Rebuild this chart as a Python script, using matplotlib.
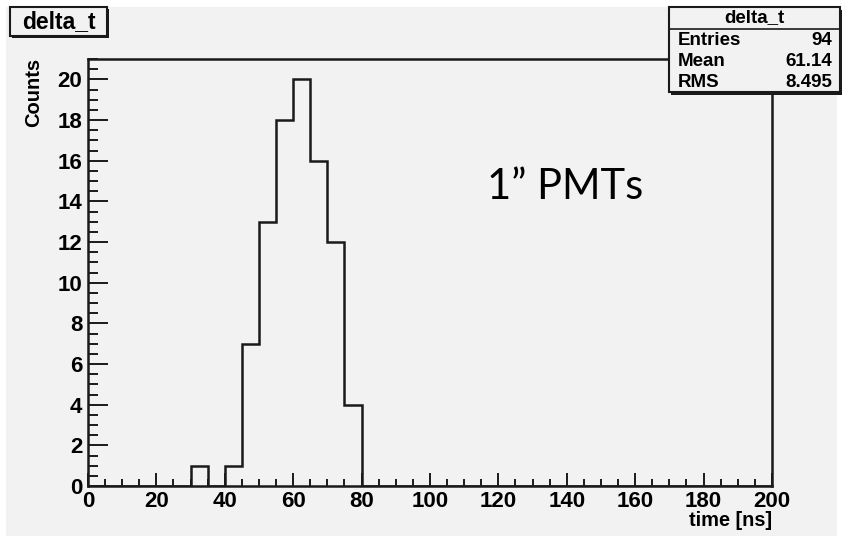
import matplotlib
matplotlib.use("Agg")
import matplotlib.pyplot as plt
from matplotlib.patches import Rectangle
from matplotlib.ticker import MultipleLocator
import numpy as np

# Histogram content: 5 ns bins from 0 to 200 ns
bin_edges = np.arange(0, 205, 5)
bin_counts = [0, 0, 0, 0, 0, 0, 1, 0, 1, 7, 13, 18, 20, 16, 12, 4] + [0] * 24

hist_name = "delta_t"
stat_labels = ["Entries", "Mean", "RMS"]
stat_values = ["94", "61.14", "8.495"]
x_label = "time [ns]"
y_label = "Counts"
annotation = "1\u201d PMTs"

W, H = 845, 536
fig = plt.figure(figsize=(W / 100, H / 100), dpi=100, facecolor="white")

def fx(px):
    return px / W

def fy(py):
    return 1 - py / H

BG = "#f2f2f2"
INK = "#1a1a1a"
bold = dict(family="Liberation Sans", weight="bold")

# canvas background
fig.patches.append(Rectangle((fx(6), fy(536)), fx(837) - fx(6), fy(7) - fy(536),
                             transform=fig.transFigure, facecolor=BG, edgecolor="none", zorder=-10))

# plot frame
left, right, top, bottom = 88, 772, 59, 486
ax = fig.add_axes([fx(left), fy(bottom), fx(right) - fx(left), fy(top) - fy(bottom)])
ax.set_zorder(1)
ax.set_facecolor(BG)
ax.stairs(bin_counts, bin_edges, color=INK, linewidth=1.8, baseline=0)
ax.set_xlim(0, 200)
ax.set_ylim(0, 21)
for s in ax.spines.values():
    s.set_linewidth(1.8)
    s.set_color(INK)

ax.xaxis.set_major_locator(MultipleLocator(20))
ax.xaxis.set_minor_locator(MultipleLocator(5))
ax.yaxis.set_major_locator(MultipleLocator(2))
ax.yaxis.set_minor_locator(MultipleLocator(0.5))
ax.tick_params(axis="x", which="major", direction="in", length=9.5, width=1.4, color=INK, pad=3.5)
ax.tick_params(axis="x", which="minor", direction="in", length=5, width=1.4, color=INK)
ax.tick_params(axis="y", which="major", direction="in", length=14.5, width=1.4, color=INK, pad=4)
ax.tick_params(axis="y", which="minor", direction="in", length=7.5, width=1.4, color=INK)
ax.tick_params(top=False, right=False, which="both")

ax.set_xticks(np.arange(0, 201, 20))
ax.set_xticklabels([str(v) for v in range(0, 201, 20)], fontsize=16, **bold)
yt = np.arange(0, 21, 2)
ax.set_yticks(yt)
ax.set_yticklabels([str(v) for v in yt], fontsize=16, **bold)

ax.text(0.584, 0.70, annotation, transform=ax.transAxes, ha="left", va="center",
        fontsize=30, family="Lato", color="black")

fig.text(fx(34), fy(58), y_label, rotation=90, ha="center", va="top", fontsize=14.5, **bold)
fig.text(fx(772), fy(520), x_label, ha="right", va="center", fontsize=14.4, **bold)

# boxes with a drop shadow
def shadow_box(x0, y0, x1, y1, lw=1.5, sh=2.5):
    fig.patches.append(Rectangle((fx(x0 + sh), fy(y1 + sh)), fx(x1) - fx(x0), fy(y0) - fy(y1),
                                 transform=fig.transFigure, facecolor=INK, edgecolor="none", zorder=5))
    fig.patches.append(Rectangle((fx(x0), fy(y1)), fx(x1) - fx(x0), fy(y0) - fy(y1),
                                 transform=fig.transFigure, facecolor=BG, edgecolor=INK,
                                 linewidth=lw, zorder=6))

# title box
shadow_box(10, 7, 107, 36)
fig.text(fx(58.5), fy(22), hist_name, ha="center", va="center", fontsize=16.5, zorder=7, **bold)

# statistics box
shadow_box(669, 7, 840, 92)
fig.add_artist(plt.Line2D([fx(669), fx(840)], [fy(29), fy(29)], transform=fig.transFigure,
                          color=INK, linewidth=1.2, zorder=7))
fig.text(fx(754.5), fy(17.5), hist_name, ha="center", va="center", fontsize=13.5, zorder=7, **bold)
for i, (lab, val) in enumerate(zip(stat_labels, stat_values)):
    yy = 40.5 + i * 21
    fig.text(fx(678), fy(yy), lab, ha="left", va="center", fontsize=13.5, zorder=7, **bold)
    fig.text(fx(832), fy(yy), val, ha="right", va="center", fontsize=13.5, zorder=7, **bold)

fig.savefig("out.png", dpi=100, facecolor="white")
